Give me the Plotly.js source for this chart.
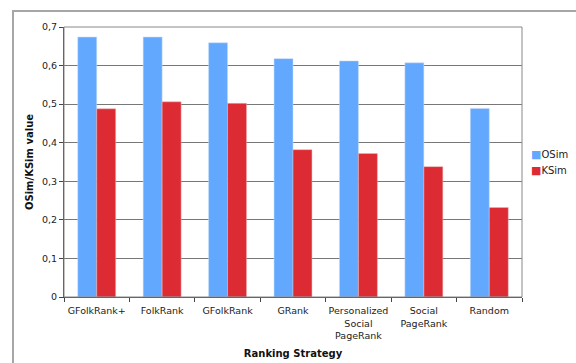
<!DOCTYPE html>
<html><head><meta charset="utf-8">
<script src="https://cdn.plot.ly/plotly-3.0.1.min.js"></script>
<style>
html,body{margin:0;padding:0;background:#fff;}
#wrap{position:relative;width:576px;height:363px;overflow:hidden;}
#frame{position:absolute;left:12px;top:10px;width:600px;height:400px;border:2px solid #a6a6a6;box-sizing:border-box;pointer-events:none;}
#chart{position:absolute;left:0;top:0;width:576px;height:363px;}
</style></head>
<body><div id="wrap"><div id="chart"></div><div id="frame"></div></div>
<script>
const categories = ["GFolkRank+", "FolkRank", "GFolkRank", "GRank", "Personalized<br>Social<br>PageRank", "Social<br>PageRank", "Random"];
const seriesNames = ["OSim", "KSim"];
const seriesColors = ["#63a8ff", "#dc2b32"];
const osim = [0.674, 0.674, 0.659, 0.618, 0.612, 0.607, 0.489];
const ksim = [0.488, 0.506, 0.502, 0.382, 0.372, 0.338, 0.232];
const yTickVals = [0, 0.1, 0.2, 0.3, 0.4, 0.5, 0.6, 0.7];
const yTickText = ["0", "0,1", "0,2", "0,3", "0,4", "0,5", "0,6", "0,7"];

const font = {family: "DejaVu Sans, Verdana, sans-serif", size: 9.5, color: "#222"};
const traces = [
  {type: "bar", name: seriesNames[0], x: categories, y: osim, marker: {color: seriesColors[0], line: {color: "#c9ddf5", width: 0.5}}},
  {type: "bar", name: seriesNames[1], x: categories, y: ksim, marker: {color: seriesColors[1], line: {color: "#e9b9bb", width: 0.5}}}
];
const legendAnn = seriesNames.map((n, i) => ({
  xref: "paper", yref: "paper", x: 1.016, y: 0.526 - i * 0.059, xanchor: "left", yanchor: "middle",
  showarrow: false, align: "left",
  text: "<span style='color:" + seriesColors[i] + ";font-size:11px'>■</span>" + n,
  font: {family: font.family, size: 10, color: "#222"}
}));
const layout = {
  width: 576, height: 363,
  margin: {l: 64, r: 54, t: 27, b: 66},
  paper_bgcolor: "rgba(0,0,0,0)", plot_bgcolor: "#fff",
  font: font,
  barmode: "group", bargap: 0.42, bargroupgap: 0,
  showlegend: false,
  annotations: legendAnn,
  xaxis: {
    type: "category", tickson: "boundaries", ticks: "outside", ticklen: 4, tickcolor: "#444",
    tickangle: 0, ticklabelstandoff: 5,
    showline: true, linecolor: "#444", linewidth: 1, mirror: false,
    showgrid: false, tickfont: font,
    title: {text: "Ranking Strategy", font: {family: font.family, size: 10, color: "#111", weight: "bold"}, standoff: 9}
  },
  yaxis: {
    range: [0, 0.7], tickvals: yTickVals, ticktext: yTickText,
    ticks: "outside", ticklen: 4, tickcolor: "#444",
    showgrid: true, gridcolor: "#777", gridwidth: 1,
    showline: true, linecolor: "#444", zeroline: false,
    tickfont: font,
    title: {text: "OSim/KSim value", font: {family: font.family, size: 10, color: "#111", weight: "bold"}, standoff: 6}
  },
  shapes: [
    {type: "rect", xref: "paper", yref: "paper", x0: 0, x1: 1, y0: 0, y1: 1, line: {color: "#888", width: 1}, fillcolor: "rgba(0,0,0,0)", layer: "above"}
  ]
};
Plotly.newPlot("chart", traces, layout, {displayModeBar: false, staticPlot: true});
</script></body></html>
